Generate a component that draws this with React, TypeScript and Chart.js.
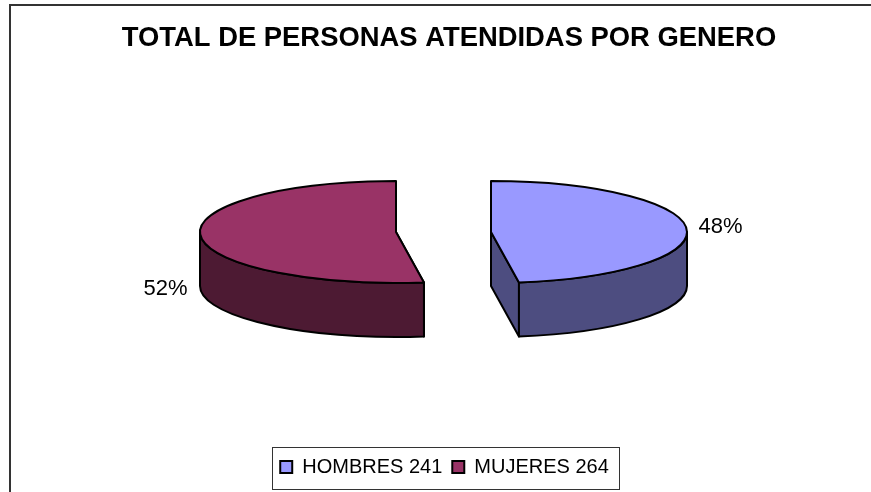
import React, { useEffect, useRef } from "react";
import { Chart, registerables } from "chart.js";

Chart.register(...registerables);

const seriesNames = ["HOMBRES", "MUJERES"];
const seriesValues = [241, 264];
const percentLabels = ["48%", "52%"];
const faceColors = ["#9999FF", "#993366"];
const wallColors = ["#4D4D80", "#4D1A33"];
const chartTitle = "TOTAL DE PERSONAS ATENDIDAS POR GENERO";

const FONT = "'Liberation Sans', Arial, sans-serif";
const SQUASH = 51 / 196;
const DEPTH = 54;
const EXPLODE = 47.5;

function geometry(arc: any) {
  const mid = (arc.startAngle + arc.endAngle) / 2;
  return {
    cx: arc.x + (Math.cos(mid) > 0 ? EXPLODE : -EXPLODE),
    cy: arc.y,
    rx: arc.outerRadius,
    ry: arc.outerRadius * SQUASH,
    start: arc.startAngle,
    end: arc.endAngle,
    mid,
  };
}

const pie3d = {
  id: "pie3d",
  beforeDraw(chart: any) {
    const { ctx, width, height } = chart;
    ctx.save();
    ctx.fillStyle = "#fff";
    ctx.fillRect(0, 0, width, height);
    ctx.strokeStyle = "#333";
    ctx.lineWidth = 2;
    ctx.beginPath();
    ctx.moveTo(10, height);
    ctx.lineTo(10, 5);
    ctx.lineTo(width, 5);
    ctx.stroke();
    ctx.restore();
  },
  afterLayout(chart: any) {
    const a = chart.chartArea;
    a.left = 16;
    a.right = chart.width;
    a.top = 0;
    a.bottom = 464;
    a.width = a.right - a.left;
    a.height = a.bottom - a.top;
    const lg = chart.legend;
    lg.left -= 4.5;
    lg.right -= 4.5;
    (lg.legendHitBoxes || []).forEach((h: any) => (h.left -= 4.5));
  },
  beforeDatasetDraw(chart: any) {
    const { ctx } = chart;
    const arcs = chart.getDatasetMeta(0).data;
    ctx.save();
    ctx.lineWidth = 2;
    ctx.lineJoin = "round";
    ctx.strokeStyle = "#000";
    arcs.forEach((arc: any, i: number) => {
      const g = geometry(arc);
      ctx.fillStyle = wallColors[i];
      // radial wall at the end of the first slice, at the start of the others
      const edge = i === 0 ? g.end : g.start;
      const ex = g.cx + Math.cos(edge) * g.rx;
      const ey = g.cy + Math.sin(edge) * g.ry;
      ctx.beginPath();
      ctx.moveTo(g.cx, g.cy);
      ctx.lineTo(ex, ey);
      ctx.lineTo(ex, ey + DEPTH);
      ctx.lineTo(g.cx, g.cy + DEPTH);
      ctx.closePath();
      ctx.fill();
      ctx.stroke();
      // curved wall
      const a0 = Math.max(g.start, 0);
      const a1 = Math.min(g.end, Math.PI);
      if (a1 > a0) {
        ctx.beginPath();
        ctx.ellipse(g.cx, g.cy, g.rx, g.ry, 0, a0, a1);
        ctx.ellipse(g.cx, g.cy + DEPTH, g.rx, g.ry, 0, a1, a0, true);
        ctx.closePath();
        ctx.fill();
        ctx.stroke();
      }
      // the library's own arc, exploded and squashed into the top face
      ctx.save();
      ctx.translate(g.cx, g.cy);
      ctx.scale(1, SQUASH);
      ctx.translate(-arc.x, -arc.y);
      arc.draw(ctx);
      ctx.restore();
      ctx.beginPath();
      ctx.moveTo(g.cx, g.cy);
      ctx.ellipse(g.cx, g.cy, g.rx, g.ry, 0, g.start, g.end);
      ctx.closePath();
      ctx.stroke();
      // percentage labels
      const px = g.cx + Math.cos(g.mid) * g.rx;
      const py = g.cy + Math.sin(g.mid) * g.ry;
      ctx.fillStyle = "#000";
      ctx.font = `22px ${FONT}`;
      ctx.textBaseline = "middle";
      if (Math.cos(g.mid) > 0) {
        ctx.textAlign = "left";
        ctx.fillText(percentLabels[i], px + 12, py - 1);
      } else {
        ctx.textAlign = "right";
        ctx.fillText(percentLabels[i], px - 13, py + DEPTH - 1);
      }
    });
    ctx.restore();
    return false;
  },
  afterDraw(chart: any) {
    const { ctx, legend } = chart;
    const boxes = legend.legendHitBoxes;
    if (!boxes || !boxes.length) return;
    const last = boxes[boxes.length - 1];
    const left = Math.round(boxes[0].left - 8) + 0.5;
    const right = Math.round(last.left + last.width + 10) + 0.5;
    const top = Math.round(legend.top) + 0.5;
    ctx.save();
    ctx.strokeStyle = "#333";
    ctx.lineWidth = 1;
    ctx.strokeRect(left, top, right - left, 42);
    ctx.restore();
  },
};

export default function App() {
  const ref = useRef<HTMLCanvasElement>(null);
  useEffect(() => {
    const chart = new Chart(ref.current!, {
      type: "pie",
      data: {
        labels: seriesNames.map((n, i) => `${n} ${seriesValues[i]}`),
        datasets: [
          {
            data: seriesValues,
            backgroundColor: faceColors,
            borderWidth: 0,
            radius: 196,
            clip: false,
          } as any,
        ],
      },
      options: {
        animation: false,
        responsive: false,
        events: [],
        layout: { padding: { left: 27, bottom: 5 } },
        plugins: {
          tooltip: { enabled: false },
          title: {
            display: true,
            text: chartTitle,
            color: "#000",
            font: { family: FONT, size: 27.4, weight: "bold" },
            padding: { top: 22, bottom: 6 },
          },
          legend: {
            display: true,
            position: "bottom",
            labels: {
              color: "#000",
              font: { family: FONT, size: 20 },
              boxWidth: 12,
              boxHeight: 12,
              padding: 10,
              generateLabels: (c: any) =>
                c.data.labels.map((text: string, i: number) => ({
                  text,
                  fillStyle: faceColors[i],
                  strokeStyle: "#000",
                  lineWidth: 2,
                  fontColor: "#000",
                  hidden: false,
                  index: i,
                })),
            },
          },
        },
      } as any,
      plugins: [pie3d as any],
    });
    return () => chart.destroy();
  }, []);
  return (
    <canvas
      ref={ref}
      width={871}
      height={492}
      style={{ position: "fixed", left: 0, top: 0, display: "block" }}
    />
  );
}
